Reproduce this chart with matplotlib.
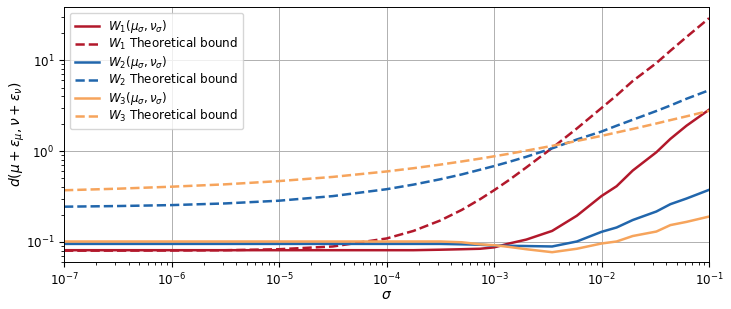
import numpy as np
import matplotlib
matplotlib.use("Agg")
import matplotlib.pyplot as plt

# sigma grid (log10 exponents)
log_sigma = [-7, -6.5, -6, -5.5, -5, -4.5, -4, -3.75, -3.5, -3.3, -3.13, -3.0,
             -2.86, -2.7, -2.46, -2.23, -2.0, -1.86, -1.71, -1.49, -1.36, -1.21, -1.0]

w1_emp = [0.081, 0.081, 0.081, 0.081, 0.081, 0.081, 0.081, 0.081, 0.082, 0.083, 0.084, 0.087,
          0.096, 0.106, 0.132, 0.194, 0.32, 0.41, 0.61, 0.97, 1.36, 1.9, 2.85]
w1_bound = [0.080, 0.0801, 0.0803, 0.0809, 0.083, 0.089, 0.109, 0.132, 0.172, 0.225, 0.295, 0.37,
            0.48, 0.66, 1.08, 1.77, 2.98, 4.1, 5.9, 9.3, 12.7, 18.0, 29.0]
w2_emp = [0.095, 0.095, 0.095, 0.095, 0.095, 0.095, 0.095, 0.095, 0.095, 0.094, 0.093, 0.091,
          0.0905, 0.090, 0.089, 0.101, 0.129, 0.144, 0.174, 0.216, 0.26, 0.30, 0.374]
w2_bound = [0.244, 0.248, 0.254, 0.265, 0.284, 0.319, 0.38, 0.427, 0.489, 0.553, 0.623, 0.683,
            0.76, 0.865, 1.07, 1.34, 1.64, 1.90, 2.21, 2.76, 3.17, 3.76, 4.67]
w3_emp = [0.101, 0.101, 0.101, 0.101, 0.101, 0.101, 0.101, 0.101, 0.101, 0.099, 0.094, 0.092,
          0.088, 0.083, 0.077, 0.084, 0.096, 0.101, 0.116, 0.13, 0.153, 0.166, 0.19]
w3_bound = [0.37, 0.385, 0.405, 0.43, 0.467, 0.519, 0.596, 0.647, 0.709, 0.768, 0.825, 0.875,
            0.933, 1.01, 1.14, 1.29, 1.47, 1.60, 1.75, 2.01, 2.19, 2.41, 2.77]

sigma = 10.0 ** np.array(log_sigma)

red, blue, orange = "#b2182b", "#2166ac", "#f6a45c"

plt.rcParams["font.size"] = 8.6
plt.rcParams["axes.linewidth"] = 0.7

fig = plt.figure(figsize=(7.31, 3.09), dpi=100)
ax = fig.add_axes([0.0876, 0.152, 0.8824, 0.825])

ax.plot(sigma, w1_emp, color=red, lw=1.8, label=r"$W_1(\mu_\sigma, \nu_\sigma)$")
ax.plot(sigma, w1_bound, color=red, lw=1.8, ls="--", label=r"$W_1$ Theoretical bound")
ax.plot(sigma, w2_emp, color=blue, lw=1.8, label=r"$W_2(\mu_\sigma, \nu_\sigma)$")
ax.plot(sigma, w2_bound, color=blue, lw=1.8, ls="--", label=r"$W_2$ Theoretical bound")
ax.plot(sigma, w3_emp, color=orange, lw=1.8, label=r"$W_3(\mu_\sigma, \nu_\sigma)$")
ax.plot(sigma, w3_bound, color=orange, lw=1.8, ls="--", label=r"$W_3$ Theoretical bound")

ax.set_xscale("log")
ax.set_yscale("log")
ax.set_xlim(1e-7, 1e-1)
ax.set_ylim(0.060, 38.4)
ax.grid(True, which="major", color="#b0b0b0", lw=0.7)
ax.set_xlabel(r"$\sigma$", fontsize=10)
ax.set_ylabel(r"$d(\mu+\varepsilon_\mu, \nu+\varepsilon_\nu)$", fontsize=10)
ax.xaxis.set_label_coords(0.5, -0.10)
ax.yaxis.set_label_coords(-0.057, 0.5)
ax.legend(loc="upper left", labelspacing=0.12, borderaxespad=0.5)

fig.savefig("out.png", dpi=100)
